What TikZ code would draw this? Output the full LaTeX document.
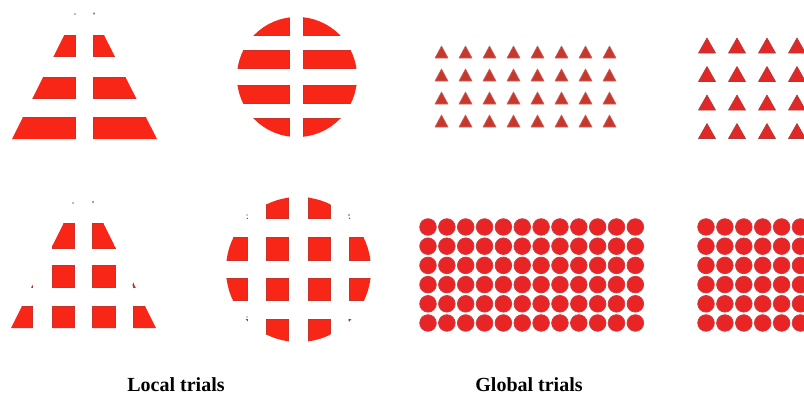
\documentclass[tikz,border=0pt]{standalone}
\usepackage{fontspec}
\setmainfont{Liberation Serif}
\definecolor{barred}{RGB}{248,38,22}
\definecolor{baredge}{RGB}{200,52,42}
\definecolor{trired}{RGB}{196,56,46}
\definecolor{trired2}{RGB}{226,40,38}
\definecolor{triedge}{RGB}{170,60,60}
\definecolor{dotred}{RGB}{232,36,36}
\definecolor{dotedge}{RGB}{205,60,66}
\definecolor{speck}{RGB}{90,60,60}
\begin{document}
\begin{tikzpicture}[x=1pt,y=-1pt,
  bar/.style={fill=barred,draw=baredge,line width=1pt},
  tri/.style={fill=trired,draw=trired!80!white,line width=0.6pt,line join=round},
  tribig/.style={fill=trired2,draw=triedge,line width=0.6pt,line join=round},
  dot/.style={fill=dotred,draw=dotedge,line width=0.8pt},
  speckmark/.style={fill=speck},
  label/.style={font=\fontsize{20}{24}\selectfont\bfseries,inner sep=0pt}]
\useasboundingbox (0,0) rectangle (804,399);
\fill[white] (0,0) rectangle (804,399);
\begin{scope}
\clip (0,0) rectangle (804,399);

% ---- top-left: striped triangle ----
\begin{scope}
  \clip (84,-4) -- (12,139) -- (157,139) -- cycle;
  \foreach \ya/\yb in {35/56,77/98,117/139} {
    \draw[bar] (-5,\ya) rectangle (75,\yb);
    \draw[bar] (93,\ya) rectangle (175,\yb);
  }
\end{scope}
\fill[speckmark] (75,14) ellipse (0.6 and 1);
\fill[speckmark] (94,13.5) ellipse (0.7 and 1.3);

% ---- top: striped circle ----
\begin{scope}
  \clip (297,77) circle (60);
  \foreach \ya/\yb in {16/35,50/68,85/103,118/138} {
    \draw[bar] (230,\ya) rectangle (289,\yb);
    \draw[bar] (303,\ya) rectangle (365,\yb);
  }
\end{scope}

% ---- bottom-left: checked triangle ----
\begin{scope}
  \clip (83.5,184) -- (11,328) -- (156,328) -- cycle;
  \foreach \ya/\yb in {223/248,265/287,306/328} {
    \foreach \xa/\xb in {0/32,52/74,92/115,133/170} {
      \draw[bar] (\xa,\ya) rectangle (\xb,\yb);
    }
  }
\end{scope}
\fill[speckmark] (73,203) ellipse (0.6 and 1);
\fill[speckmark] (93,202) ellipse (0.7 and 1.3);
\fill[speckmark] (32,287) ellipse (0.5 and 0.8);
\fill[speckmark] (133,285) ellipse (0.6 and 1.1);

% ---- bottom: checked circle ----
\begin{scope}
  \clip (298.5,269.5) circle (72.5);
  \foreach \ya/\yb in {197/218,237/260,278/300,319/343} {
    \foreach \xa/\xb in {215/247,266/288,308/330,349/385} {
      \draw[bar] (\xa,\ya) rectangle (\xb,\yb);
    }
  }
\end{scope}
\fill[speckmark] (247,215) ellipse (0.5 and 0.8);
\fill[speckmark] (349,215) ellipse (0.7 and 1.1);
\fill[speckmark] (247,317) ellipse (0.5 and 0.8);
\fill[speckmark] (349,320) ellipse (0.7 and 1.1);

% ---- global: small triangles ----
\foreach \i in {0,...,7} {
  \foreach \j in {0,...,3} {
    \draw[tri] ({441.5+24*\i-6.5},{58+23*\j}) -- ({441.5+24*\i},{58+23*\j-12}) -- ({441.5+24*\i+6.5},{58+23*\j}) -- cycle;
  }
}
\foreach \i in {0,...,3} {
  \foreach \j in {0,...,3} {
    \draw[tribig] ({707+30*\i-8.5},{53+28.5*\j}) -- ({707+30*\i},{53+28.5*\j-15}) -- ({707+30*\i+8.5},{53+28.5*\j}) -- cycle;
  }
}

% ---- global: circles ----
\foreach \i in {0,...,11} {
  \foreach \j in {0,...,5} {
    \draw[dot] ({428+18.85*\i},{227+19.2*\j}) circle (8.3);
  }
}
\foreach \i in {0,...,5} {
  \foreach \j in {0,...,5} {
    \draw[dot] ({706+18.9*\i},{227+19.2*\j}) circle (8.3);
  }
}
\end{scope}

% ---- labels ----
\node[label] (local) at (176,385) {Local trials};
\node[label] (global) at (529,385) {Global trials};
\end{tikzpicture}
\end{document}
